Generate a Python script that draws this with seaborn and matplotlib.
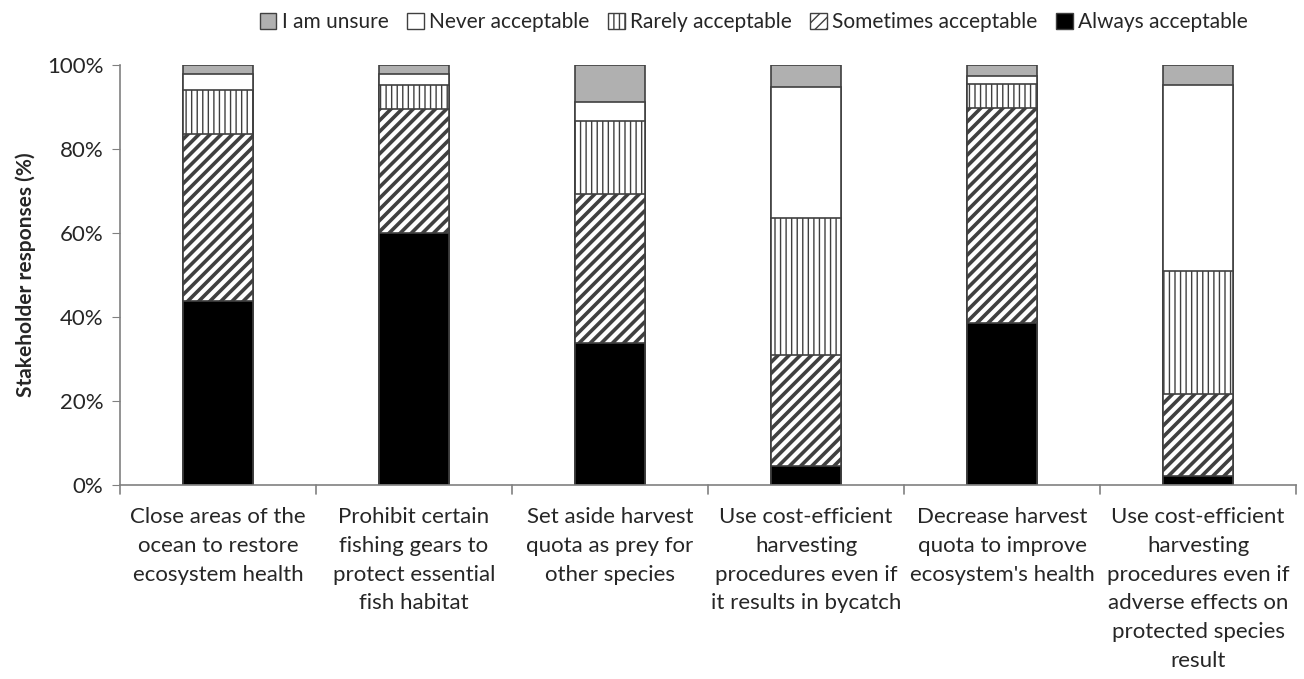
import matplotlib
matplotlib.use("Agg")
import matplotlib.pyplot as plt
from matplotlib.patches import Patch
import seaborn as sns
import numpy as np
import pandas as pd

categories = [
    "Close areas of the\nocean to restore\necosystem health",
    "Prohibit certain\nfishing gears to\nprotect essential\nfish habitat",
    "Set aside harvest\nquota as prey for\nother species",
    "Use cost-efficient\nharvesting\nprocedures even if\nit results in bycatch",
    "Decrease harvest\nquota to improve\necosystem's health",
    "Use cost-efficient\nharvesting\nprocedures even if\nadverse effects on\nprotected species\nresult",
]

# percentages, bottom to top
always = [43.9, 60.0, 33.8, 4.4, 38.5, 2.2]
sometimes = [39.8, 29.6, 35.5, 26.6, 51.4, 19.5]
rarely = [10.5, 5.6, 17.3, 32.7, 5.5, 29.3]
never = [3.6, 2.6, 4.7, 31.1, 2.1, 44.3]
unsure = [2.2, 2.2, 8.7, 5.2, 2.5, 4.7]

series = ["Always acceptable", "Sometimes acceptable", "Rarely acceptable",
          "Never acceptable", "I am unsure"]
values = [always, sometimes, rarely, never, unsure]
colors = ["black", "white", "white", "white", "#b0b0b0"]
hatches = ["", "///", "|||", "", ""]
hatch_lw = [1.0, 2.6, 1.0, 1.0, 1.0]

sns.set_style("white")
plt.rcParams["font.family"] = ["Lato", "DejaVu Sans"]
plt.rcParams["hatch.color"] = "black"

fig = plt.figure(figsize=(13.04, 6.79), dpi=100)
ax = fig.add_axes([0.092, 0.286, 0.902, 0.618])

cum = np.cumsum(np.array(values), axis=0)
# draw from the top layer down so the stacks overlap correctly
for i in range(len(series) - 1, -1, -1):
    df = pd.DataFrame({"cat": categories, "val": cum[i]})
    n_before = len(ax.patches)
    plt.rcParams["hatch.linewidth"] = hatch_lw[i]
    sns.barplot(data=df, x="cat", y="val", color=colors[i], width=0.36,
                edgecolor="#404040", linewidth=1.2, ax=ax, saturation=1)
    for p in ax.patches[n_before:]:
        p.set_facecolor(colors[i])
        p.set_hatch(hatches[i])
        if hasattr(p, "set_hatch_linewidth"):
            p.set_hatch_linewidth(hatch_lw[i])

ax.set_ylim(0, 100)
ax.set_xlim(-0.5, len(categories) - 0.5)
ax.set_yticks(np.arange(0, 101, 20))
ax.set_yticklabels([f"{v}%" for v in range(0, 101, 20)], fontsize=16)
ax.set_xticks(range(len(categories)))
ax.set_xticklabels(categories, fontsize=16, linespacing=1.55)
ax.tick_params(axis="x", length=0, pad=16)
ax.tick_params(axis="y", length=6, color="#808080", direction="out", left=True, pad=6)
for x in np.arange(-0.5, len(categories), 1.0):
    ax.plot([x, x], [0, -2.2], color="#808080", lw=1.2, clip_on=False)
ax.set_xlabel("")
ax.set_ylabel("Stakeholder responses (%)", fontsize=15, fontweight="bold", labelpad=8)

for s in ["top", "right"]:
    ax.spines[s].set_visible(False)
for s in ["left", "bottom"]:
    ax.spines[s].set_color("#808080")
    ax.spines[s].set_linewidth(1.2)

legend_order = [4, 3, 2, 1, 0]
handles = [Patch(facecolor=colors[i], edgecolor="#404040", hatch=hatches[i], lw=1)
           for i in legend_order]
labels = [series[i] for i in legend_order]
fig.legend(handles, labels, loc="upper center", bbox_to_anchor=(0.578, 1.01), ncol=5,
           frameon=False, fontsize=15, handlelength=0.8, handleheight=0.8,
           handletextpad=0.25, columnspacing=0.9)

fig.savefig("out.png", dpi=100)
